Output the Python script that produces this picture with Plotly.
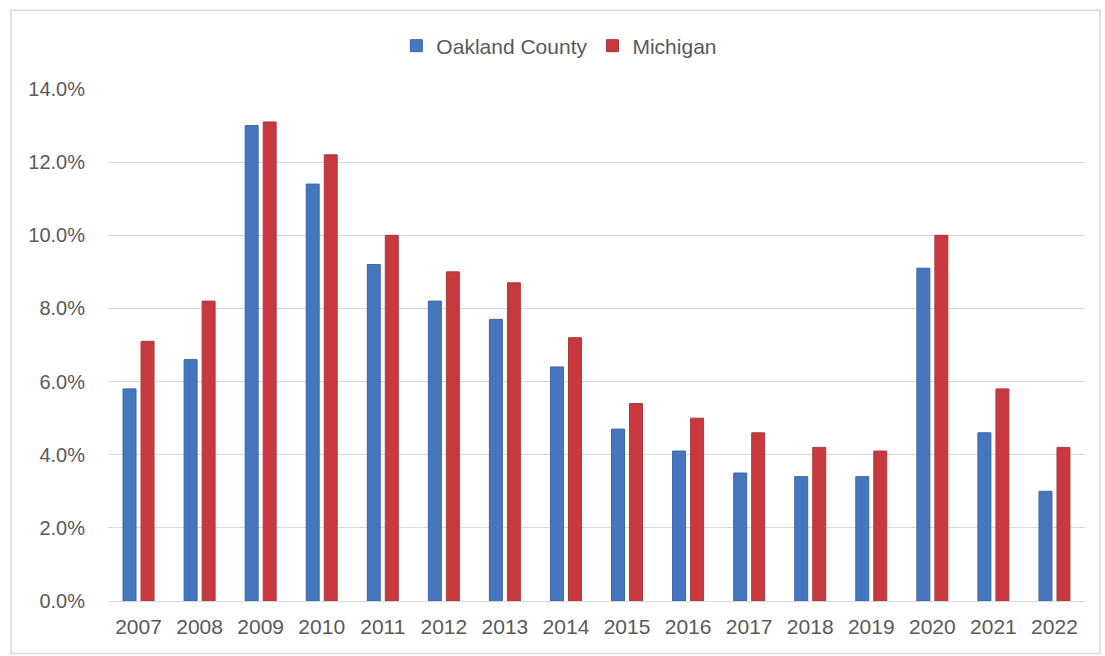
import plotly.graph_objects as go

years = ["2007", "2008", "2009", "2010", "2011", "2012", "2013", "2014",
         "2015", "2016", "2017", "2018", "2019", "2020", "2021", "2022"]
oakland = [5.8, 6.6, 13.0, 11.4, 9.2, 8.2, 7.7, 6.4, 4.7, 4.1, 3.5, 3.4, 3.4, 9.1, 4.6, 3.0]
michigan = [7.1, 8.2, 13.1, 12.2, 10.0, 9.0, 8.7, 7.2, 5.4, 5.0, 4.6, 4.2, 4.1, 10.0, 5.8, 4.2]
y_ticks = [0, 2, 4, 6, 8, 10, 12, 14]
y_labels = ["0.0%", "2.0%", "4.0%", "6.0%", "8.0%", "10.0%", "12.0%", "14.0%"]

font_family = "Liberation Sans, Arial, sans-serif"
text_color = "#595959"

fig = go.Figure()
fig.add_trace(go.Bar(
    x=years, y=oakland, name="Oakland County",
    marker=dict(color="#4677BE", line=dict(color="#3A66A8", width=1)),
))
fig.add_trace(go.Bar(
    x=years, y=michigan, name="Michigan",
    marker=dict(color="#C8393F", line=dict(color="#A93A3E", width=1)),
))

fig.update_layout(
    width=1105, height=656,
    margin=dict(l=108, r=20, t=89, b=55),
    paper_bgcolor="white", plot_bgcolor="white",
    barmode="group", bargap=0.41, bargroupgap=0.28,
    font=dict(family=font_family, color=text_color, size=20),
    legend=dict(
        orientation="h", x=0.462, xanchor="center", y=1.084, yanchor="middle",
        font=dict(size=21, color=text_color), itemwidth=30,
        bgcolor="rgba(0,0,0,0)",
    ),
    xaxis=dict(
        showgrid=False, showline=False, zeroline=False, ticks="",
        tickfont=dict(size=21, color=text_color), ticklabelstandoff=11,
    ),
    yaxis=dict(
        range=[0, 14], tickvals=y_ticks, ticktext=y_labels,
        showgrid=True, gridcolor="#D9D9D9", gridwidth=1,
        zeroline=True, zerolinecolor="#D9D9D9", zerolinewidth=1,
        showline=False, ticks="",
        tickfont=dict(size=20, color=text_color), ticklabelstandoff=22,
    ),
    shapes=[dict(
        type="rect", xref="paper", yref="paper",
        x0=-0.0993, x1=1.0154, y0=-0.1024, y1=1.154,
        line=dict(color="#D9D9D9", width=1.5), fillcolor="rgba(0,0,0,0)",
        layer="below",
    )],
)

fig.write_html("out.html")
